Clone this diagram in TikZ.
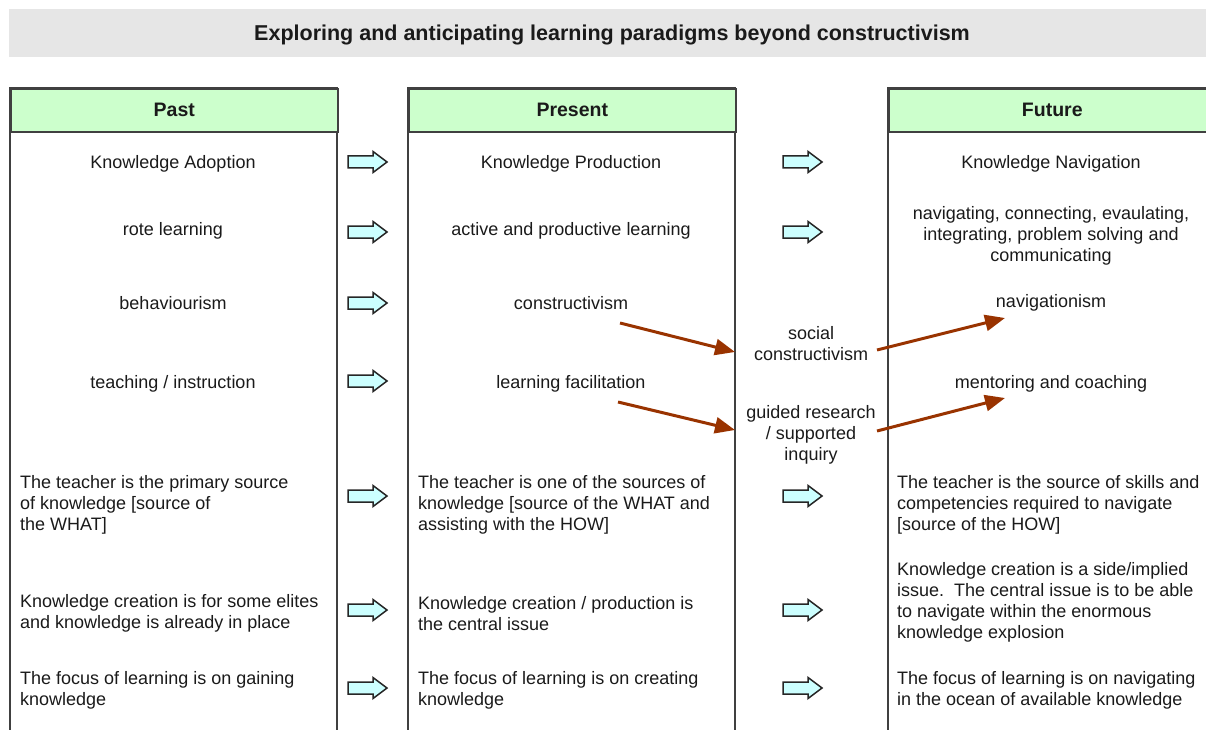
\documentclass[tikz,border=0pt]{standalone}
\usepackage{fontspec}
\setmainfont{Liberation Sans}
\usetikzlibrary{arrows.meta}
\definecolor{hdrgreen}{HTML}{CCFFCC}
\definecolor{titlegray}{HTML}{E6E6E6}
\definecolor{blkcyan}{HTML}{CCFFFF}
\definecolor{brown}{HTML}{993300}
\definecolor{txt}{HTML}{1A1A1A}
\definecolor{border}{HTML}{404040}
\tikzset{
  x=1pt, y=-1pt,
  txtnode/.style={inner sep=0pt, text=txt, font=\fontsize{18}{21}\selectfont, align=center, yshift=-2pt},
  lefttxt/.style={txtnode, anchor=west, align=left},
  hdr/.style={draw=border, line width=1.6pt, fill=hdrgreen, minimum height=43pt, inner sep=0pt,
              font=\fontsize{19.5}{21}\selectfont\bfseries, text=txt},
  colline/.style={draw=border, line width=1.6pt},
  brownarrow/.style={draw=brown, line width=3pt, -{Triangle[length=20pt,width=16pt]}},
  pics/blkarrow/.style={code={
    \draw[draw=black!85, fill=blkcyan, line width=1.5pt, line join=miter]
      (-19.5,-6) -- (5.5,-6) -- (5.5,-10.5) -- (19.5,0) -- (5.5,10.5) -- (5.5,6) -- (-19.5,6) -- cycle;
  }}
}
\begin{document}
\begin{tikzpicture}
\useasboundingbox (0,0) rectangle (1206,730);
% title
\fill[titlegray] (9,9) rectangle (1212,57);
\node[txtnode, font=\fontsize{21.5}{24}\selectfont\bfseries] (title) at (612,33) {Exploring and anticipating learning paradigms beyond constructivism};

% columns
\draw[colline] (10,740) -- (10,88) -- (337,88) -- (337,740);
\draw[colline] (408,740) -- (408,88) -- (735,88) -- (735,740);
\draw[colline] (888,740) -- (888,88) -- (1220,88) -- (1220,740);
\node[hdr, minimum width=327pt, anchor=north west] (hpast) at (10,88) {Past};
\node[hdr, minimum width=327pt, anchor=north west] (hpres) at (408,88) {Present};
\node[hdr, minimum width=327pt, anchor=north west] (hfut) at (888,88) {Future};

% past column
\node[txtnode] (p1) at (173,162) {Knowledge Adoption};
\node[txtnode] (p2) at (173,229) {rote learning};
\node[txtnode] (p3) at (173,301) {behaviourism};
\node[txtnode] (p4) at (173,382) {teaching / instruction};
\node[lefttxt] (p5) at (20,503) {The teacher is the primary source\\{}of knowledge [source of\\{}the WHAT]};
\node[lefttxt] (p6) at (20,611.5) {Knowledge creation is for some elites\\{}and knowledge is already in place};
\node[lefttxt] (p7) at (20,688.5) {The focus of learning is on gaining\\{}knowledge};

% present column
\node[txtnode] (q1) at (571,162) {Knowledge Production};
\node[txtnode] (q2) at (571,229) {active and productive learning};
\node[txtnode] (q3) at (571,301) {constructivism};
\node[txtnode] (q4) at (571,382) {learning facilitation};
\node[lefttxt] (q5) at (418,503) {The teacher is one of the sources of\\{}knowledge [source of the WHAT and\\{}assisting with the HOW]};
\node[lefttxt] (q6) at (418,611.5) {Knowledge creation / production is\\{}the central issue};
\node[lefttxt] (q7) at (418,688.5) {The focus of learning is on creating\\{}knowledge};

% middle
\node[txtnode] (sc) at (811,341.5) {social\\{}constructivism};
\node[txtnode] (gr) at (811,433) {guided research\\{}/ supported\\{}inquiry};

% future column
\node[txtnode] (f1) at (1051,162) {Knowledge Navigation};
\node[txtnode] (f2) at (1051,234) {navigating, connecting, evaulating,\\{}integrating, problem solving and\\{}communicating};
\node[txtnode] (f3) at (1051,301) {navigationism};
\node[txtnode] (f4) at (1051,382) {mentoring and coaching};
\node[lefttxt] (f5) at (897,503) {The teacher is the source of skills and\\{}competencies required to navigate\\{}[source of the HOW]};
\node[lefttxt] (f6) at (897,600.5) {Knowledge creation is a side/implied\\{}issue.\ \ The central issue is to be able\\{}to navigate within the enormous\\{}knowledge explosion};
\node[lefttxt] (f7) at (897,688.5) {The focus of learning is on navigating\\{}in the ocean of available knowledge};

% block arrows past -> present
\foreach \y/\n in {162/1,232/2,303/3,381/4,496/5,610/6,688/7}
  \pic (ba\n) at (367.5,\y) {blkarrow};
% block arrows present -> future
\foreach \y/\n in {162/1,232/2,496/5,610/6,688/7}
  \pic (bb\n) at (802.5,\y) {blkarrow};

% brown arrows
\coordinate (a1) at (620,323);
\coordinate (a2) at (735,352);
\coordinate (a3) at (877,350);
\coordinate (a4) at (1005,318);
\coordinate (b1) at (618,402);
\coordinate (b2) at (735,430);
\coordinate (b3) at (877,431);
\coordinate (b4) at (1005,398);
\draw[brownarrow] (a1) -- (a2);
\draw[brownarrow] (a3) -- (a4);
\draw[brownarrow] (b1) -- (b2);
\draw[brownarrow] (b3) -- (b4);
\end{tikzpicture}
\end{document}
